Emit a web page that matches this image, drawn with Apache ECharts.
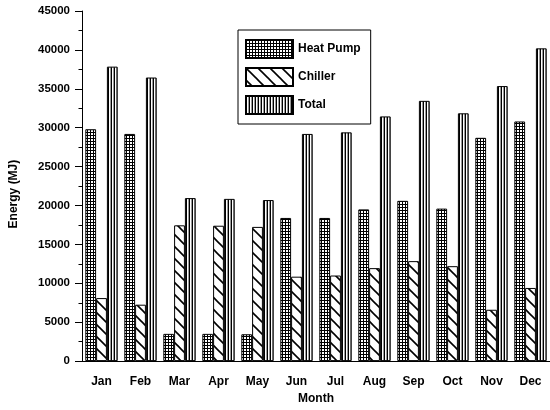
<!DOCTYPE html>
<html>
<head>
<meta charset="utf-8">
<script src="https://cdn.jsdelivr.net/npm/echarts@6/dist/echarts.min.js"></script>
<style>
  html, body { margin: 0; padding: 0; background: #fff; }
  #chart { width: 550px; height: 410px; }
</style>
</head>
<body>
<div id="chart"></div>
<script>
// Monthly energy use (MJ)
const months = ['Jan', 'Feb', 'Mar', 'Apr', 'May', 'Jun', 'Jul', 'Aug', 'Sep', 'Oct', 'Nov', 'Dec'];
const heatPump = [29800, 29200, 3500, 3500, 3450, 18400, 18400, 19500, 20600, 19600, 28700, 30800];
const chiller = [8100, 7250, 17450, 17400, 17250, 10850, 11000, 11950, 12850, 12200, 6600, 9400];
const total = [37850, 36450, 20950, 20850, 20700, 29200, 29400, 31450, 33450, 31850, 35350, 40200];

const FONT = '"Liberation Sans", Arial, sans-serif';

// Fill patterns drawn on small tiles
function makeTile(w, h, draw) {
  const c = document.createElement('canvas');
  c.width = w; c.height = h;
  const ctx = c.getContext('2d');
  ctx.fillStyle = '#fff';
  ctx.fillRect(0, 0, w, h);
  draw(ctx);
  return c;
}

// square grid
const gridTile = makeTile(3, 3, ctx => {
  ctx.fillStyle = '#000';
  ctx.fillRect(0, 0, 3, 1);
  ctx.fillRect(0, 0, 1, 3);
});

// backslash hatch
const hatchTile = makeTile(12, 12, ctx => {
  ctx.strokeStyle = '#000';
  ctx.lineWidth = 1.6;
  for (const o of [-12, 0, 12]) {
    ctx.beginPath();
    ctx.moveTo(o - 1, -1);
    ctx.lineTo(o + 13, 13);
    ctx.stroke();
  }
});

// vertical stripes
const stripeTile = makeTile(3, 3, ctx => {
  ctx.fillStyle = '#000';
  ctx.fillRect(0, 0, 1, 3);
  ctx.fillStyle = '#9a9a9a';
  ctx.fillRect(2, 0, 1, 3);
});

function pattern(tile) {
  return { image: tile, repeat: 'repeat' };
}

const chart = echarts.init(document.getElementById('chart'), null, { renderer: 'canvas' });

const barStyle = (tile) => ({
  color: pattern(tile),
  borderColor: '#000',
  borderWidth: 1
});

chart.setOption({
  animation: false,
  backgroundColor: '#fff',
  textStyle: { fontFamily: FONT },
  grid: { left: 79, right: -2, top: 11, bottom: 47 },
  legend: {
    orient: 'vertical',
    left: 238,
    top: 30,
    padding: [9, 10, 9, 7],
    itemGap: 8,
    itemWidth: 47,
    itemHeight: 18,
    icon: 'rect',
    borderColor: '#000',
    borderWidth: 1,
    backgroundColor: '#fff',
    textStyle: { fontFamily: FONT, fontWeight: 'bold', fontSize: 12, color: '#000' },
    data: ['Heat Pump', 'Chiller', 'Total']
  },
  xAxis: [
    {
      type: 'category',
      data: months,
      position: 'bottom',
      name: 'Month',
      nameLocation: 'middle',
      nameGap: 30,
      nameTextStyle: { fontFamily: FONT, fontWeight: 'bold', fontSize: 12, color: '#000' },
      axisLine: { lineStyle: { color: '#000', width: 1 } },
      axisTick: { alignWithLabel: true, length: 7, lineStyle: { color: '#000' } },
      axisLabel: { margin: 15, fontFamily: FONT, fontWeight: 'bold', fontSize: 12, color: '#000' },
      splitLine: { show: false }
    },
    {
      type: 'category',
      data: months,
      position: 'bottom',
      offset: 0,
      axisLine: { show: false },
      axisTick: { length: 3.5, lineStyle: { color: '#000' } },
      axisLabel: { show: false },
      splitLine: { show: false }
    }
  ],
  yAxis: {
    type: 'value',
    min: 0,
    max: 45000,
    interval: 5000,
    name: 'Energy (MJ)',
    nameLocation: 'middle',
    nameGap: 62,
    nameTextStyle: { fontFamily: FONT, fontWeight: 'bold', fontSize: 12, color: '#000', padding: [0, 16, 0, 0] },
    axisLine: { show: true, lineStyle: { color: '#000', width: 1 } },
    axisTick: { show: true, length: 7, lineStyle: { color: '#000' } },
    minorTick: { show: true, splitNumber: 2, length: 3.5, lineStyle: { color: '#000' } },
    axisLabel: {
      margin: 12, fontFamily: FONT, fontWeight: 'bold', fontSize: 11.5, color: '#000',
      formatter: v => String(v)
    },
    splitLine: { show: false },
    minorSplitLine: { show: false }
  },
  series: [
    {
      name: 'Heat Pump', type: 'bar', data: heatPump, xAxisIndex: 0,
      barGap: '0%', barCategoryGap: '17%',
      itemStyle: barStyle(gridTile)
    },
    {
      name: 'Chiller', type: 'bar', data: chiller, xAxisIndex: 0,
      barGap: '0%', barCategoryGap: '17%',
      itemStyle: barStyle(hatchTile)
    },
    {
      name: 'Total', type: 'bar', data: total, xAxisIndex: 0,
      barGap: '0%', barCategoryGap: '17%',
      itemStyle: barStyle(stripeTile)
    }
  ]
});
</script>
</body>
</html>
